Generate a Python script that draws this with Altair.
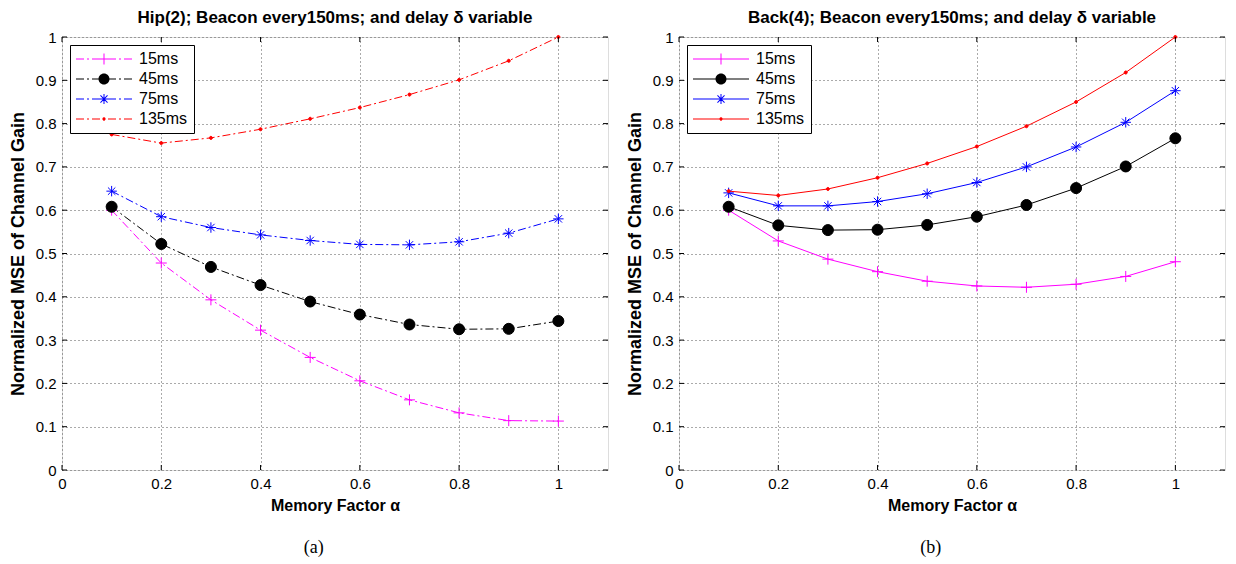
import math
import altair as alt
import pandas as pd

# ---------------- data ----------------
ALPHA = [0.1, 0.2, 0.3, 0.4, 0.5, 0.6, 0.7, 0.8, 0.9, 1.0]
DELAYS = ["15ms", "45ms", "75ms", "135ms"]

HIP_15 = [0.600, 0.478, 0.393, 0.323, 0.260, 0.206, 0.162, 0.132, 0.114, 0.113]
HIP_45 = [0.608, 0.522, 0.469, 0.427, 0.389, 0.359, 0.336, 0.325, 0.326, 0.344]
HIP_75 = [0.644, 0.585, 0.560, 0.543, 0.530, 0.521, 0.520, 0.527, 0.547, 0.580]
HIP_135 = [0.775, 0.755, 0.767, 0.787, 0.811, 0.837, 0.867, 0.901, 0.945, 1.000]

BACK_15 = [0.600, 0.529, 0.487, 0.458, 0.436, 0.425, 0.422, 0.429, 0.447, 0.481]
BACK_45 = [0.608, 0.565, 0.554, 0.555, 0.566, 0.585, 0.612, 0.651, 0.701, 0.766]
BACK_75 = [0.640, 0.610, 0.610, 0.620, 0.638, 0.664, 0.700, 0.746, 0.803, 0.876]
BACK_135 = [0.644, 0.634, 0.649, 0.675, 0.708, 0.747, 0.794, 0.850, 0.918, 1.000]

X_TICKS = [0, 0.2, 0.4, 0.6, 0.8, 1.0]
Y_TICKS = [0, 0.1, 0.2, 0.3, 0.4, 0.5, 0.6, 0.7, 0.8, 0.9, 1.0]

TITLE_A = "Hip(2); Beacon every150ms; and delay δ variable"
TITLE_B = "Back(4); Beacon every150ms; and delay δ variable"
X_TITLE = "Memory Factor α"
Y_TITLE = "Normalized MSE of Channel Gain"

# ---------------- styles ----------------
COLORS = ["#ff00ff", "#000000", "#0000ff", "#ff0000"]
FONT = "Liberation Sans"
W, H = 546, 433
DASHDOT = [8, 3, 2, 3]


def circ(r):
    return f"M{-r},0A{r},{r} 0 1,0 {r},0A{r},{r} 0 1,0 {-r},0Z"


def plus(r):
    return f"M{-r},0L{r},0M0,{-r}L0,{r}"


def aster(r):
    d = round(r * 0.7071, 4)
    return plus(r) + f"M{-d},{-d}L{d},{d}M{-d},{d}L{d},{-d}"


# plot markers, drawn at a constant symbol size of 121 (unit = 5.5px)
MARKER_SIZE = 121
MARKERS = [plus(1.0), circ(1.0), aster(0.95), circ(0.28)]

# ---- legend symbols: filled shapes, path unit = 7px (symbolSize 196) ----
LEG_SIZE = 196
U = 7.0
LINE_X0, LINE_X1, MARK_X = -8.0, 48.0, 20.0


def P(v):
    return round(v / U, 4)


def bar(cx, ang, r, w):
    c, s = math.cos(ang), math.sin(ang)
    pts = [(cx + r * c - w * s, r * s + w * c), (cx + r * c + w * s, r * s - w * c),
           (cx - r * c + w * s, -r * s - w * c), (cx - r * c - w * s, -r * s + w * c)]
    return "M" + "L".join(f"{P(x)},{P(y)}" for x, y in pts) + "Z"


def disc(cx, r):
    a, b, rr = P(cx - r), P(cx + r), P(r)
    return f"M{a},0A{rr},{rr} 0 1,0 {b},0A{rr},{rr} 0 1,0 {a},0Z"


def seg_list(dashed):
    if not dashed:
        return [(LINE_X0, LINE_X1)]
    segs, x, i = [], LINE_X0, 0
    while x < LINE_X1:
        ln = DASHDOT[i % 4]
        if i % 2 == 0:
            segs.append((x, min(x + ln, LINE_X1)))
        x += ln
        i += 1
    return segs


def cut(segs, a, b):
    out = []
    for s, e in segs:
        if e <= a or s >= b:
            out.append((s, e))
        else:
            if s < a:
                out.append((s, a))
            if e > b:
                out.append((b, e))
    return out


def line_path(segs):
    return "".join(bar((s + e) / 2, 0, (e - s) / 2, 0.5) for s, e in segs if e - s > 0.05)


def legend_paths(dashed):
    segs = seg_list(dashed)
    m = MARK_X
    p15 = line_path(cut(segs, m - 5.5, m + 5.5)) + bar(m, 0, 5.5, 0.5) + bar(m, math.pi / 2, 5.5, 0.5)
    p45 = line_path(cut(segs, m - 4.5, m + 4.5)) + disc(m, 5.5)
    p75 = (line_path(cut(segs, m - 5.0, m + 5.0)) + bar(m, 0, 5.0, 0.5) + bar(m, math.pi / 2, 5.0, 0.5)
           + bar(m, math.pi / 4, 5.0, 0.5) + bar(m, -math.pi / 4, 5.0, 0.5))
    p135 = line_path(cut(segs, m - 1.0, m + 1.0)) + disc(m, 1.6)
    return [p15, p45, p75, p135]


def panel(series, title, caption, dashed):
    rows = []
    for d, vals in zip(DELAYS, series):
        for a, v in zip(ALPHA, vals):
            rows.append({"alpha": a, "mse": v, "Delay": d})
    df = pd.DataFrame(rows)

    xs = alt.Scale(domain=[0, 1.1], nice=False, zero=False)
    ys = alt.Scale(domain=[0, 1], nice=False)

    def cscale():
        return alt.Scale(domain=DELAYS, range=COLORS)

    xaxis = alt.Axis(values=X_TICKS, format="~g", title=X_TITLE, ticks=False, domain=False,
                     grid=True, gridDash=[1, 3], gridColor="#555", gridOpacity=1,
                     labelFontSize=15, labelFont=FONT, labelColor="black", labelPadding=6,
                     titleFont=FONT, titleFontSize=16, titleFontWeight="bold",
                     titleColor="black", titlePadding=6, labelFlush=False)
    yaxis = alt.Axis(values=Y_TICKS, format="~g", title=Y_TITLE, ticks=False, domain=False,
                     grid=True, gridDash=[1, 3], gridColor="#555", gridOpacity=1,
                     labelFontSize=15, labelFont=FONT, labelColor="black", labelPadding=6,
                     titleFont=FONT, titleFontSize=18, titleFontWeight="bold",
                     titleColor="black", titlePadding=8, labelFlush=False)

    X = alt.X("alpha:Q", scale=xs, axis=xaxis, title=X_TITLE)
    Y = alt.Y("mse:Q", scale=ys, axis=yaxis, title=Y_TITLE)

    base = alt.Chart(df)
    line_kw = {"strokeWidth": 1}
    if dashed:
        line_kw["strokeDash"] = DASHDOT
    lines = base.mark_line(**line_kw).encode(
        x=X, y=Y,
        stroke=alt.Stroke("Delay:N", scale=cscale(), legend=None),
        order=alt.Order("alpha:Q"),
    )
    point_layers = []
    for d, shp, col in zip(DELAYS, MARKERS, COLORS):
        point_layers.append(
            base.transform_filter(alt.datum.Delay == d).mark_point(
                shape=shp, size=MARKER_SIZE, stroke=col, fill=col, strokeWidth=1,
                opacity=1, fillOpacity=1, strokeOpacity=1,
            ).encode(x=X, y=Y)
        )

    leg = alt.Legend(title=None, orient="top-left", offset=8, padding=6,
                     strokeColor="black", fillColor="white", cornerRadius=0,
                     labelFont=FONT, labelFontSize=16, labelColor="black",
                     symbolSize=LEG_SIZE, symbolStrokeWidth=0, symbolOpacity=1,
                     symbolFillColor="black",
                     rowPadding=4, labelOffset=47)
    legend_layer = base.transform_filter("false").mark_point(
        filled=True, opacity=1, strokeWidth=0
    ).encode(
        x=X, y=Y,
        color=alt.Color("Delay:N", scale=cscale(), legend=leg),
        shape=alt.Shape("Delay:N", scale=alt.Scale(domain=DELAYS, range=legend_paths(dashed)), legend=leg),
    )

    xt = alt.Chart(pd.DataFrame({"alpha": X_TICKS}))
    yt = alt.Chart(pd.DataFrame({"mse": Y_TICKS}))
    tick_style = {"color": "black", "strokeWidth": 1}
    bottom_ticks = xt.mark_rule(**tick_style).encode(x=X, y=alt.value(H), y2=alt.value(H - 5))
    top_ticks = xt.mark_rule(**tick_style).encode(x=X, y=alt.value(0), y2=alt.value(5))
    left_ticks = yt.mark_rule(**tick_style).encode(y=Y, x=alt.value(0), x2=alt.value(5))
    right_ticks = yt.mark_rule(**tick_style).encode(y=Y, x=alt.value(W), x2=alt.value(W - 5))

    layered = alt.layer(
        lines, *point_layers, bottom_ticks, top_ticks, left_ticks, right_ticks, legend_layer
    ).resolve_scale(color="independent", shape="independent").properties(
        width=W, height=H,
        title=alt.TitleParams(title, font=FONT, fontSize=17, fontWeight="bold",
                              color="black", offset=3, anchor="middle"),
    )
    return alt.vconcat(layered).properties(
        title=alt.TitleParams(caption, orient="bottom", font="Liberation Serif", fontSize=18,
                              fontWeight="normal", color="black", anchor="middle",
                              offset=25, dx=5)
    )


left = panel([HIP_15, HIP_45, HIP_75, HIP_135], TITLE_A, "(a)", True)
right = panel([BACK_15, BACK_45, BACK_75, BACK_135], TITLE_B, "(b)", False)

chart = alt.hconcat(left, right, spacing=16).properties(padding=0).configure_view(
    stroke="black", strokeWidth=1
).configure(background="white")

chart.save("out.html", embed_options={"renderer": "svg", "actions": False})
